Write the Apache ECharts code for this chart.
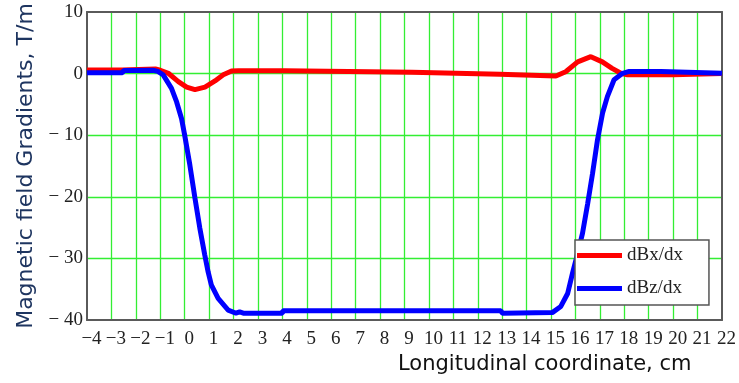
<!DOCTYPE html>
<html>
<head>
<meta charset="utf-8">
<script src="https://cdn.jsdelivr.net/npm/echarts@6/dist/echarts.min.js"></script>
<style>
html,body{margin:0;padding:0;background:#fff;}
#chart{width:739px;height:383px;}
</style>
</head>
<body>
<div id="chart"></div>
<script>
const seriesNames = ['dBx/dx', 'dBz/dx'];
const xAxisTitle = 'Longitudinal coordinate, cm';
const yAxisTitle = 'Magnetic field Gradients, T/m';

const dBxX = [-4, -2.55, -2.5, -1.2, -1.0, -0.67, -0.26, 0.08, 0.42, 0.83, 1.24, 1.58, 1.92, 2.2, 4.1, 4.15, 9.3, 9.35, 12.9, 12.95, 15.2, 15.6, 16.09, 16.63, 17.1, 17.5, 17.86, 18.13, 20.0, 20.05, 22];
const dBxY = [0.6, 0.6, 0.75, 0.75, 0.55, 0.05, -1.3, -2.2, -2.6, -2.2, -1.2, -0.2, 0.42, 0.47, 0.47, 0.2, 0.2, -0.1, -0.1, -0.4, -0.4, 0.3, 1.9, 2.75, 1.9, 0.85, 0.05, -0.2, -0.2, 0.0, 0.0];

const dBzX = [-4, -2.55, -2.5, -1.3, -1.1, -0.88, -0.54, -0.33, -0.13, 0, 0.21, 0.42, 0.62, 0.82, 0.96, 1.09, 1.37, 1.78, 2.1, 2.25, 2.4, 4.0, 4.02, 12.95, 13.0, 15.05, 15.4, 15.68, 15.88, 16.09, 16.29, 16.5, 16.7, 16.9, 17.11, 17.31, 17.58, 17.93, 18.2, 19.5, 19.55, 22];
const dBzY = [0.15, 0.15, 0.5, 0.55, 0.35, -0.2, -2.4, -4.6, -7.3, -10, -14.8, -20.2, -25.1, -29.4, -32.2, -34.3, -36.5, -38.4, -38.9, -38.7, -38.9, -38.9, -38.5, -38.5, -38.9, -38.8, -37.8, -35.7, -32.4, -29.2, -25.9, -21.1, -16.2, -10.8, -6.4, -3.7, -1.0, 0.05, 0.35, 0.35, 0.05, 0.05];

const xMin = -4, xMax = 22, xStep = 1;
const yMin = -40, yMax = 10, yStep = 10;

function pairs(xs, ys){ return xs.map((x,i)=>[x, ys[i]]); }
function fmt(v){ return v < 0 ? '\u2212' + Math.abs(v) : String(v); }
function fmtY(v){ return v < 0 ? '\u2212 ' + Math.abs(v) : String(v); }

const chart = echarts.init(document.getElementById('chart'));
chart.setOption({
  animation: false,
  backgroundColor: '#ffffff',
  grid: { left: 87, right: 16, top: 12, bottom: 63, show: false },
  xAxis: [{
    type: 'value', min: xMin, max: xMax, interval: xStep, position: 'bottom',
    axisLine: { show: true, onZero: false, lineStyle: { color: '#5a5a5a', width: 2 } }, axisTick: { show: false },
    splitLine: { show: true, showMinLine: false, showMaxLine: false, lineStyle: { color: '#33ee33', width: 1.3 } },
    axisLabel: { formatter: fmt, fontFamily: 'Liberation Serif', fontSize: 19, color: '#222', margin: 10, padding: [0,0,0,9], showMinLabel: true, showMaxLabel: true }
  }, {
    type: 'value', min: xMin, max: xMax, interval: xStep, position: 'top',
    axisLine: { show: true, onZero: false, lineStyle: { color: '#5a5a5a', width: 2 } }, axisTick: { show: false },
    splitLine: { show: false }, axisLabel: { show: false }
  }],
  yAxis: [{
    type: 'value', min: yMin, max: yMax, interval: yStep, position: 'left',
    axisLine: { show: true, onZero: false, lineStyle: { color: '#5a5a5a', width: 2 } }, axisTick: { show: false },
    splitLine: { show: true, showMinLine: false, showMaxLine: false, lineStyle: { color: '#33ee33', width: 1.3 } },
    axisLabel: { formatter: fmtY, fontFamily: 'Liberation Serif', fontSize: 19, color: '#222', margin: 4 },
    name: yAxisTitle, nameLocation: 'middle', nameGap: 50, nameRotate: 90,
    nameTextStyle: { fontFamily: 'DejaVu Sans', fontSize: 22, color: '#1e3560' }
  }, {
    type: 'value', min: yMin, max: yMax, interval: yStep, position: 'right',
    axisLine: { show: true, onZero: false, lineStyle: { color: '#5a5a5a', width: 2 } }, axisTick: { show: false },
    splitLine: { show: false }, axisLabel: { show: false }
  }],
  legend: {
    data: seriesNames, orient: 'vertical', left: 575, top: 240, width: 135,
    backgroundColor: '#ffffff', borderColor: '#555', borderWidth: 1.5, borderRadius: 0,
    padding: [6, 26, 7, 2], itemGap: 14, itemWidth: 45, itemHeight: 5, icon: 'rect',
    textStyle: { fontFamily: 'Liberation Serif', fontSize: 19, color: '#222' }
  },
  graphic: [{
    type: 'text', left: 398, top: 354,
    style: { text: xAxisTitle, font: '21px "DejaVu Sans"', fill: '#111' }
  }],
  series: [
    { name: seriesNames[0], type: 'line', data: pairs(dBxX, dBxY), showSymbol: false, symbol: 'none', lineStyle: { color: '#ff0000', width: 5 }, itemStyle: { color: '#ff0000' }, z: 2 },
    { name: seriesNames[1], type: 'line', data: pairs(dBzX, dBzY), showSymbol: false, symbol: 'none', lineStyle: { color: '#0000ff', width: 5 }, itemStyle: { color: '#0000ff' }, z: 3 }
  ]
});
</script>
</body>
</html>
